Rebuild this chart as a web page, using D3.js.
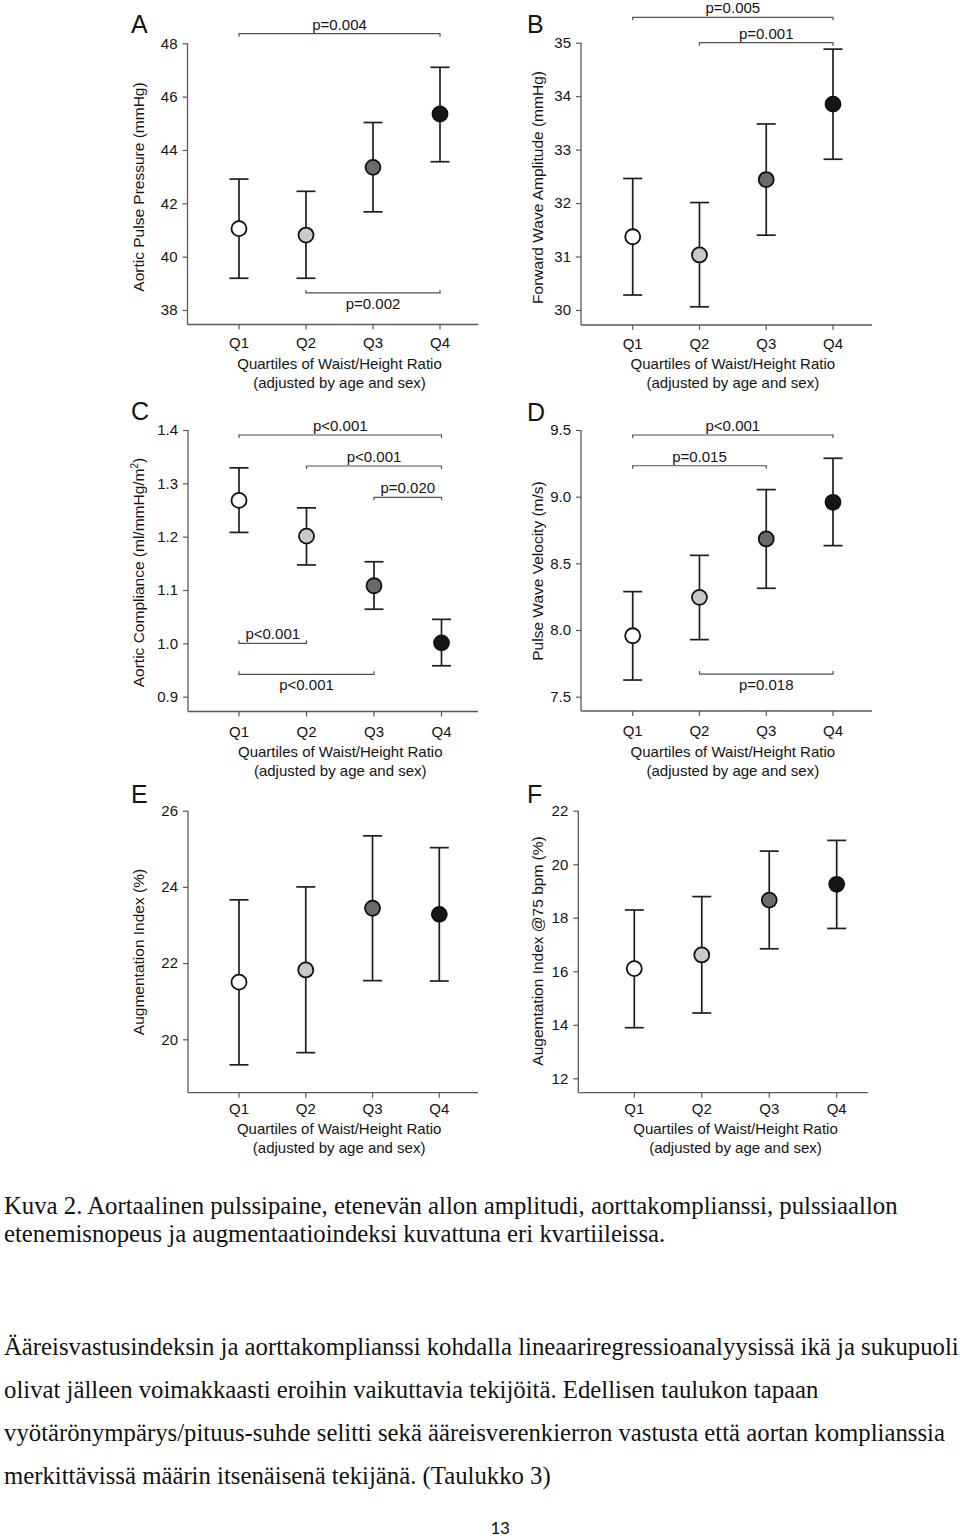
<!DOCTYPE html>
<html>
<head>
<meta charset="utf-8">
<script src="https://cdn.jsdelivr.net/npm/d3@7"></script>
<style>
  html, body { margin: 0; padding: 0; background: #fff; }
  svg { display: block; }
</style>
</head>
<body>
<svg id="page" width="960" height="1539"></svg>
<script>
// ---------------- DATA ----------------
const quartiles = ["Q1", "Q2", "Q3", "Q4"];
const quartileFills = ["#ffffff", "#c9c9c9", "#6a6a6a", "#161616"];
const xAxisTitle = "Quartiles of Waist/Height Ratio";
const xAxisSubtitle = "(adjusted by age and sex)";

// A: Aortic pulse pressure
const aMean = [41.05, 40.81, 43.35, 45.35];
const aLow  = [39.19, 39.19, 41.68, 43.56];
const aHigh = [42.91, 42.45, 45.03, 47.10];
const aTicks = [38, 40, 42, 44, 46, 48];
const aBrackets = [[0, 3, "p=0.004", 48.36, "above"], [1, 3, "p=0.002", 38.64, "below"]];

// B: Forward wave amplitude
const bMean = [31.37, 31.03, 32.44, 33.85];
const bLow  = [30.28, 30.06, 31.40, 32.82];
const bHigh = [32.46, 32.01, 33.48, 34.88];
const bTicks = [30, 31, 32, 33, 34, 35];
const bBrackets = [[0, 3, "p=0.005", 35.475, "above"], [1, 3, "p=0.001", 35.0, "above"]];

// C: Aortic compliance
const cMean = [1.268, 1.201, 1.108, 1.001];
const cLow  = [1.208, 1.147, 1.064, 0.958];
const cHigh = [1.329, 1.254, 1.153, 1.045];
const cTicks = [0.9, 1.0, 1.1, 1.2, 1.3, 1.4];
const cBrackets = [[0, 3, "p<0.001", 1.3906, "above"], [1, 3, "p<0.001", 1.3325, "above"],
                   [2, 3, "p=0.020", 1.2738, "above"], [0, 1, "p<0.001", 1.0, "aboveUp"],
                   [0, 2, "p<0.001", 0.942, "below"]];

// D: Pulse wave velocity
const dMean = [7.957, 8.245, 8.683, 8.958];
const dLow  = [7.625, 7.928, 8.313, 8.633];
const dHigh = [8.288, 8.560, 9.053, 9.288];
const dTicks = [7.5, 8.0, 8.5, 9.0, 9.5];
const dBrackets = [[0, 3, "p<0.001", 9.4625, "above"], [0, 2, "p=0.015", 9.232, "above"],
                   [1, 3, "p=0.018", 7.67, "below"]];

// E: Augmentation index
const eMean = [21.50, 21.82, 23.44, 23.28];
const eLow  = [19.33, 19.65, 21.54, 21.53];
const eHigh = [23.66, 24.00, 25.34, 25.03];
const eTicks = [20, 22, 24, 26];

// F: Augmentation index @75 bpm
const fMean = [16.10, 16.61, 18.66, 19.25];
const fLow  = [13.89, 14.44, 16.84, 17.60];
const fHigh = [18.29, 18.79, 20.49, 20.89];
const fTicks = [12, 14, 16, 18, 20, 22];

const captionLines = [
  "Kuva 2. Aortaalinen pulssipaine, etenevän allon amplitudi, aorttakomplianssi, pulssiaallon",
  "etenemisnopeus ja augmentaatioindeksi kuvattuna eri kvartiileissa."
];
const paragraphLines = [
  "Ääreisvastusindeksin ja aorttakomplianssi kohdalla lineaariregressioanalyysissä ikä ja sukupuoli",
  "olivat jälleen voimakkaasti eroihin vaikuttavia tekijöitä. Edellisen taulukon tapaan",
  "vyötärönympärys/pituus-suhde selitti sekä ääreisverenkierron vastusta että aortan komplianssia",
  "merkittävissä määrin itsenäisenä tekijänä. (Taulukko 3)"
];
const pageNumber = "13";

// ---------------- LAYOUT ----------------
const panels = [
  { letter: "A", title: "Aortic Pulse Pressure (mmHg)", mean: aMean, low: aLow, high: aHigh, ticks: aTicks, brackets: aBrackets, fmt: "d",
    axisX: 187.5, rightX: 478, xAxisY: 324.5, yTopPx: 43.3, yBotPx: 310, q1: 239, q4: 440, letterX: 131, letterY: 33, titleX: 143.5, titleY: 187, lblShift: 0 },
  { letter: "B", title: "Forward Wave Amplitude (mmHg)", mean: bMean, low: bLow, high: bHigh, ticks: bTicks, brackets: bBrackets, fmt: "d",
    axisX: 581, rightX: 872, xAxisY: 325, yTopPx: 42.7, yBotPx: 310, q1: 632.7, q4: 833, letterX: 527, letterY: 33, titleX: 542.5, titleY: 187.5, lblShift: 0 },
  { letter: "C", title: null, mean: cMean, low: cLow, high: cHigh, ticks: cTicks, brackets: cBrackets, fmt: ".1f",
    axisX: 188, rightX: 478, xAxisY: 711.5, yTopPx: 430, yBotPx: 696.7, q1: 239, q4: 441.5, letterX: 131, letterY: 420, titleX: 143.5, titleY: 572.5, lblShift: 1.5 },
  { letter: "D", title: "Pulse Wave Velocity (m/s)", mean: dMean, low: dLow, high: dHigh, ticks: dTicks, brackets: dBrackets, fmt: ".1f",
    axisX: 581, rightX: 872, xAxisY: 711, yTopPx: 430, yBotPx: 696.7, q1: 632.7, q4: 833, letterX: 527, letterY: 421, titleX: 542.5, titleY: 571, lblShift: 1.5 },
  { letter: "E", title: "Augmentation Index (%)", mean: eMean, low: eLow, high: eHigh, ticks: eTicks, brackets: [], fmt: "d",
    axisX: 188, rightX: 478, xAxisY: 1092.7, yTopPx: 810.7, yBotPx: 1039.3, q1: 239, q4: 439.3, letterX: 131, letterY: 803, titleX: 143.5, titleY: 952, lblShift: -2.5 },
  { letter: "F", title: "Augemtation Index @75 bpm (%)", mean: fMean, low: fLow, high: fHigh, ticks: fTicks, brackets: [], fmt: "d",
    axisX: 578.3, rightX: 868, xAxisY: 1092.7, yTopPx: 810.7, yBotPx: 1078.3, q1: 634.3, q4: 836.7, letterX: 527, letterY: 803, titleX: 542.5, titleY: 951, lblShift: -2.5 }
];

const SANS = "'Liberation Sans', Arial, Helvetica, sans-serif";
const SERIF = "'Liberation Serif', 'Times New Roman', Times, serif";
const TEXT = "#141414";
const AXIS = "#5a5a5a";
const BAR = "#1e1e1e";
const BRK = "#505050";

const svg = d3.select("#page");
svg.append("rect").attr("width", 960).attr("height", 1539).attr("fill", "#fff");

panels.forEach(p => {
  const g = svg.append("g");
  const lo = d3.min(p.ticks), hi = d3.max(p.ticks);
  const y = d3.scaleLinear().domain([lo, hi]).range([p.yBotPx, p.yTopPx]);
  const x = d3.scaleLinear().domain([0, quartiles.length - 1]).range([p.q1, p.q4]);

  // y axis
  const yAxis = d3.axisLeft(y).tickValues(p.ticks).tickSize(5).tickPadding(5)
    .tickFormat(d3.format(p.fmt));
  const ya = g.append("g").attr("transform", `translate(${p.axisX},0)`).call(yAxis);
  ya.select(".domain").remove();
  ya.selectAll(".tick line").attr("stroke", AXIS).attr("stroke-width", 1.2);
  ya.selectAll(".tick text").attr("fill", TEXT).style("font-family", SANS).style("font-size", "15px");
  g.append("line").attr("x1", p.axisX).attr("x2", p.axisX)
    .attr("y1", y(hi)).attr("y2", p.xAxisY).attr("stroke", AXIS).attr("stroke-width", 1.3);

  // x axis
  g.append("line").attr("x1", p.axisX).attr("x2", p.rightX)
    .attr("y1", p.xAxisY).attr("y2", p.xAxisY).attr("stroke", AXIS).attr("stroke-width", 1.3);
  quartiles.forEach((q, i) => {
    g.append("line").attr("x1", x(i)).attr("x2", x(i))
      .attr("y1", p.xAxisY).attr("y2", p.xAxisY + 5).attr("stroke", AXIS).attr("stroke-width", 1.2);
    g.append("text").attr("x", x(i)).attr("y", p.xAxisY + 23.5 + p.lblShift)
      .attr("text-anchor", "middle").attr("fill", TEXT)
      .style("font-family", SANS).style("font-size", "15px").text(q);
  });
  const midX = (x(0) + x(3)) / 2;
  g.append("text").attr("x", midX).attr("y", p.xAxisY + 44 + p.lblShift)
    .attr("text-anchor", "middle").attr("fill", TEXT)
    .style("font-family", SANS).style("font-size", "15px").text(xAxisTitle);
  g.append("text").attr("x", midX).attr("y", p.xAxisY + 63 + p.lblShift)
    .attr("text-anchor", "middle").attr("fill", TEXT)
    .style("font-family", SANS).style("font-size", "15px").text(xAxisSubtitle);

  // y axis title
  const yt = g.append("text")
    .attr("transform", `translate(${p.titleX},${p.titleY}) rotate(-90)`)
    .attr("text-anchor", "middle").attr("fill", TEXT)
    .style("font-family", SANS).style("font-size", "15.5px");
  if (p.title) {
    yt.text(p.title);
  } else {
    yt.append("tspan").text("Aortic Compliance (ml/mmHg/m");
    yt.append("tspan").attr("dy", -6).style("font-size", "10px").text("2");
    yt.append("tspan").attr("dy", 6).text(")");
  }

  // panel letter
  g.append("text").attr("x", p.letterX).attr("y", p.letterY).attr("fill", TEXT)
    .style("font-family", SANS).style("font-size", "25px").text(p.letter);

  // brackets
  p.brackets.forEach(([i0, i1, label, level, side]) => {
    const ly = y(level);
    const dir = side === "above" ? 1 : -1; // end ticks direction
    g.append("path")
      .attr("d", `M${x(i0)},${ly + 3 * dir}V${ly}H${x(i1)}V${ly + 3 * dir}`)
      .attr("fill", "none").attr("stroke", BRK).attr("stroke-width", 1.2);
    const ty = side === "below" ? ly + 16 : ly - 4;
    g.append("text").attr("x", (x(i0) + x(i1)) / 2).attr("y", ty)
      .attr("text-anchor", "middle").attr("fill", TEXT)
      .style("font-family", SANS).style("font-size", "15px").text(label);
  });

  // error bars
  const idx = d3.range(quartiles.length);
  g.selectAll(".eb").data(idx).join("line")
    .attr("x1", i => x(i)).attr("x2", i => x(i))
    .attr("y1", i => y(p.low[i])).attr("y2", i => y(p.high[i]))
    .attr("stroke", BAR).attr("stroke-width", 1.7);
  ["low", "high"].forEach(k => {
    g.selectAll(".cap-" + k).data(idx).join("line")
      .attr("x1", i => x(i) - 9.5).attr("x2", i => x(i) + 9.5)
      .attr("y1", i => y(p[k][i])).attr("y2", i => y(p[k][i]))
      .attr("stroke", BAR).attr("stroke-width", 1.7);
  });
  g.selectAll(".pt").data(idx).join("circle")
    .attr("cx", i => x(i)).attr("cy", i => y(p.mean[i])).attr("r", 7.5)
    .attr("fill", i => quartileFills[i]).attr("stroke", "#111").attr("stroke-width", 1.8);
});

// ---------------- TEXT ----------------
const cap = svg.append("g").style("font-family", SERIF).style("font-size", "24.75px").attr("fill", "#111");
captionLines.forEach((t, i) => {
  cap.append("text").attr("x", 4).attr("y", 1214 + i * 28).text(t);
});
paragraphLines.forEach((t, i) => {
  cap.append("text").attr("x", 4).attr("y", 1355 + i * 43).text(t);
});
svg.append("text").attr("x", 500).attr("y", 1534).attr("text-anchor", "middle")
  .attr("fill", "#111").style("font-family", "'Carlito', 'Open Sans', 'Liberation Sans', sans-serif")
  .style("font-size", "19px").text(pageNumber);
</script>
</body>
</html>
